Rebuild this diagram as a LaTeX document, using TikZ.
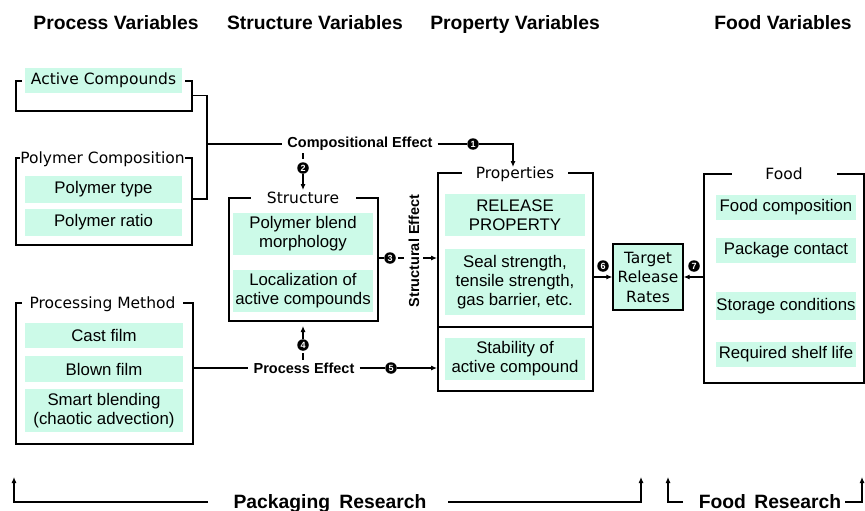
\documentclass[tikz,border=0pt]{standalone}
\usepackage{fontspec}
\setmainfont{Liberation Sans}
\newfontfamily\comic{DejaVu Sans}
\usetikzlibrary{arrows.meta}
\definecolor{mint}{RGB}{204,250,232}
\begin{document}
\begin{tikzpicture}[x=1pt,y=-1pt,
  frame/.style={draw, line width=1.8pt, inner sep=0pt, anchor=north west},
  item/.style={fill=mint, inner sep=0pt, align=center, font=\fontsize{16.8}{19}\selectfont},
  ttl/.style={fill=white, inner xsep=0pt, inner ysep=1pt, anchor=base, font=\comic\fontsize{15.5}{19}\selectfont},
  hdr/.style={font=\bfseries\fontsize{19.3}{22}\selectfont, inner sep=0pt, anchor=base},
  eff/.style={font=\bfseries\fontsize{14.5}{16}\selectfont, inner xsep=5pt, inner ysep=2pt},
  num/.style={circle, fill=black, text=white, inner sep=0pt, minimum size=11.5pt, font=\bfseries\fontsize{9}{9}\selectfont},
  conn/.style={line width=1.1pt},
  arr/.style={conn, -{Latex[length=6pt,width=5pt]}},
]
\useasboundingbox (0,0) rectangle (865,511);

% headers
\node[hdr] (h1) at (116,30) {Process Variables};
\node[hdr] (h2) at (315,30) {Structure Variables};
\node[hdr] (h3) at (515,30) {Property Variables};
\node[hdr] (h4) at (783,30) {Food Variables};

% Active Compounds
\node[frame, minimum width=176pt, minimum height=30pt] (acF) at (15,80) {};
\node[fill=white, inner sep=0pt, minimum width=163pt, minimum height=14pt] (acW) at (103.5,80) {};
\node[item, font=\comic\fontsize{15.5}{19}\selectfont, minimum width=157pt, minimum height=25pt] (acT) at (103.5,80.5) {Active Compounds};

% Polymer Composition
\node[frame, minimum width=176pt, minimum height=87pt] (pcF) at (15,157) {};
\node[ttl, minimum width=165pt] (pcT) at (102.5,163) {Polymer Composition};
\node[item, minimum width=157pt, minimum height=27pt] (pc1) at (103.5,189.5) {Polymer type};
\node[item, minimum width=157pt, minimum height=27pt] (pc2) at (103.5,222.5) {Polymer ratio};

% Processing Method
\node[frame, minimum width=177pt, minimum height=141pt] (pmF) at (15,302) {};
\node[ttl, minimum width=161pt] (pmT) at (102.5,308) {Processing Method};
\node[item, minimum width=158pt, minimum height=25pt] (pm1) at (104,335.5) {Cast film};
\node[item, minimum width=158pt, minimum height=26pt] (pm2) at (104,369) {Blown film};
\node[item, minimum width=158pt, minimum height=43pt] (pm3) at (104,410.5) {Smart blending\\(chaotic advection)};

% Structure
\node[frame, minimum width=149pt, minimum height=123pt] (stF) at (228,197) {};
\node[ttl, minimum width=105pt] (stT) at (303,203) {Structure};
\node[item, minimum width=140pt, minimum height=42pt] (st1) at (303,234) {Polymer blend\\morphology};
\node[item, minimum width=140pt, minimum height=42pt] (st2) at (303,291) {Localization of\\active compounds};

% Properties
\node[frame, minimum width=155pt, minimum height=218pt] (prF) at (437,172) {};
\coordinate (sep) at (515,327);
\draw[line width=2.2pt] (prF.west |- sep) -- (prF.east |- sep);
\node[ttl, minimum width=106pt] (prT) at (515,178) {Properties};
\node[item, minimum width=140pt, minimum height=42pt] (pr1) at (515,215) {RELEASE\\PROPERTY};
\node[item, minimum width=140pt, minimum height=66pt] (pr2) at (515,282) {Seal strength,\\tensile strength,\\gas barrier, etc.};
\node[item, minimum width=140pt, minimum height=42pt] (pr3) at (515,359) {Stability of\\active compound};

% Target Release Rates
\node[draw, line width=1.3pt, fill=mint, inner sep=0pt, minimum width=70pt, minimum height=66pt, align=center,
      font=\comic\fontsize{15.5}{19.5}\selectfont] (tr) at (648,277) {Target\\Release\\Rates};

% Food
\node[frame, minimum width=160pt, minimum height=209pt] (fdF) at (703,173) {};
\node[ttl, minimum width=105pt] (fdT) at (784,179) {Food};
\node[item, minimum width=140pt, minimum height=25pt] (fd1) at (786,207.5) {Food composition};
\node[item, minimum width=140pt, minimum height=25pt] (fd2) at (786,250.5) {Package contact};
\node[item, minimum width=140pt, minimum height=28pt] (fd3) at (786,306) {Storage conditions};
\node[item, minimum width=140pt, minimum height=25pt] (fd4) at (786,354.5) {Required shelf life};

% compositional effect
\coordinate (jA) at (207,144);
\draw[conn] (acF.east) -| (jA) |- (pcF.east |- 0,199);
\node[eff] (ce) at (360,144) {Compositional Effect};
\node[num] (n1) at (473,144) {1};
\coordinate (a1) at (513,167);
\draw[conn] (jA) -- (ce.west);
\draw[conn] (ce.east) -- (n1.west);
\draw[arr] (n1.east) -| (a1);

% 2
\node[num] (n2) at (303,168) {2};
\coordinate (c2) at (303,153);
\coordinate (a2) at (303,190);
\draw[conn, shorten >=3pt] (c2) -- (n2.north);
\draw[arr] (n2.south) -- (a2);

% 3 structural effect
\node[num] (n3) at (390,258) {3};
\draw[conn] (stF.east |- n3) -- (n3.west);
\draw[conn, shorten <=2pt] (n3.east) -- ++(8,0);
\node[font=\bfseries\fontsize{14.5}{16}\selectfont, inner sep=0pt, rotate=90] (se) at (414,251) {Structural Effect};
\coordinate (c3) at (423,258);
\draw[arr] (c3) -- (c3 -| prF.west);

% process effect
\node[eff] (pe) at (304,368) {Process Effect};
\node[num] (n4) at (303,345) {4};
\node[num] (n5) at (391,368) {5};
\coordinate (a4) at (303,326);
\draw[conn] (pmF.east |- pe) -- (pe.west);
\draw[conn] (pe.east) -- (n5.west);
\draw[arr] (n5.east) -- (n5 -| prF.west);
\draw[arr] (n4.north) -- (a4);
\draw[conn, shorten <=2.5pt] (n4.south) -- (n4.south |- pe.north);

% 6 and 7
\node[num] (n6) at (603,266) {6};
\node[num] (n7) at (694,266) {7};
\draw[arr] (prF.east |- tr) -- (tr.west);
\draw[arr] (fdF.west |- tr) -- (tr.east);

% bottom
\node[hdr] (pk) at (330,508) {Packaging\hspace{4pt} Research};
\node[hdr] (fr) at (770,508) {Food\hspace{3pt} Research};
\coordinate (pkL) at (208,502);
\coordinate (pkR) at (448,502);
\coordinate (frL) at (683,502);
\coordinate (frR) at (845,502);
\coordinate (b1) at (14,477);
\coordinate (b2) at (641,477);
\coordinate (b3) at (668,477);
\coordinate (b4) at (862,477);
\draw[arr] (pkL) -| (b1);
\draw[arr] (pkR) -| (b2);
\draw[arr] (frL) -| (b3);
\draw[arr] (frR) -| (b4);
\end{tikzpicture}
\end{document}
